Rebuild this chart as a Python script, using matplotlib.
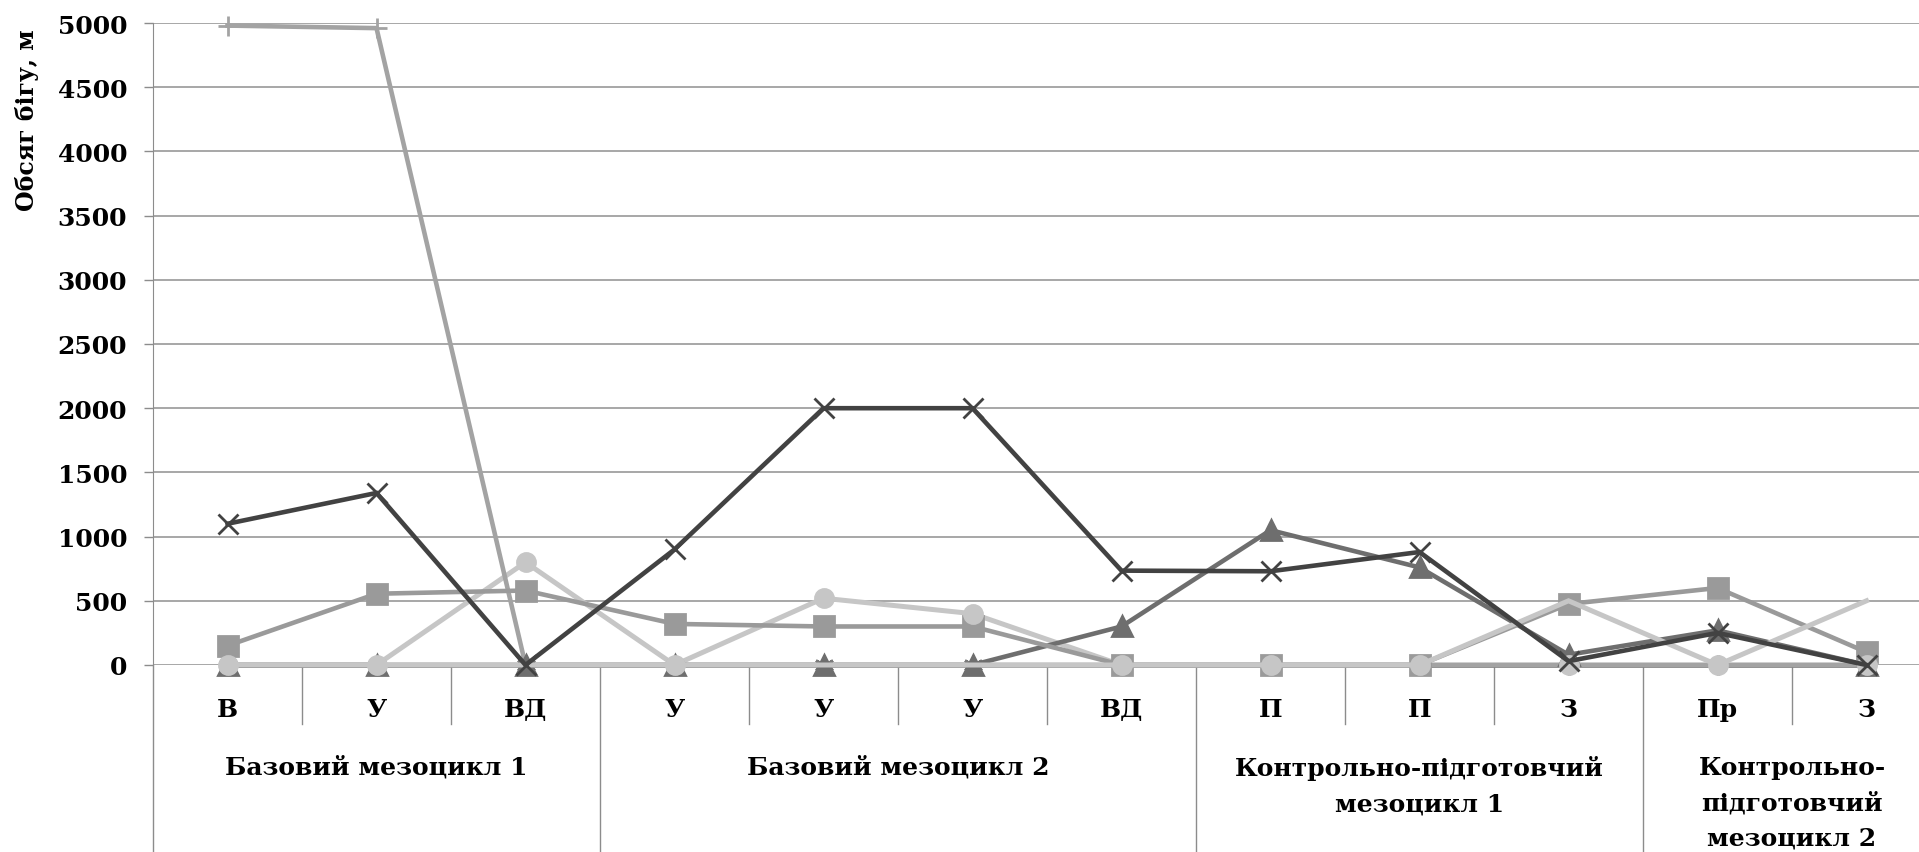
import matplotlib
matplotlib.use("Agg")
import matplotlib.pyplot as plt
from matplotlib.lines import Line2D

# Microcycle types along the horizontal axis
categories = ["В", "У", "ВД", "У", "У", "У", "ВД", "П", "П", "З", "Пр", "З"]
# Mesocycle groups and how many microcycles each contains
groups = ["Базовий мезоцикл 1", "Базовий мезоцикл 2",
          "Контрольно-підготовчий\nмезоцикл 1",
          "Контрольно-\nпідготовчий\nмезоцикл 2"]
group_sizes = [3, 4, 3, 2]

# Running volume (m) for each training zone
asterisk_vals = [0, 0, 0, 0, 0, 0, 0, 0, 0, 0, 0, 0]
plus_vals = [4980, 4960, 0, 0, 0, 0, 0, 0, 0, 0, 0, 0]
triangle_vals = [0, 0, 0, 0, 0, 0, 300, 1050, 760, 80, 270, 0]
square_vals = [150, 555, 580, 320, 300, 300, 0, 0, 0, 475, 600, 100]
circle_vals = [0, 0, 800, 0, 520, 400, 0, 0, 0, 0, 0, 0]
light_vals = [0, 0, 0, 0, 0, 0, 0, 0, 0, 500, 0, 500]
cross_vals = [1100, 1340, 0, 900, 2000, 2000, 735, 730, 880, 30, 250, 0]

y_ticks = [0, 500, 1000, 1500, 2000, 2500, 3000, 3500, 4000, 4500, 5000]

plt.rcParams["font.family"] = ["DejaVu Serif"]
plt.rcParams["font.weight"] = "bold"

W, H = 1919, 853
fig = plt.figure(figsize=(W / 100, H / 100), dpi=100)
ax_left, ax_bottom, ax_w, ax_h = 153, 187, 1788, 642
ax = fig.add_axes([ax_left / W, ax_bottom / H, ax_w / W, ax_h / H])

x = list(range(len(categories)))
LW = 3.3


def draw(vals, col, mk, ms, z, lw=LW, ls="-"):
    ax.plot(x, vals, color=col, lw=lw, ls=ls, marker=mk, markersize=ms,
            markerfacecolor=col, markeredgecolor=col, markeredgewidth=2,
            clip_on=False, solid_joinstyle="miter", zorder=z)


LIGHT = "#c6c6c6"
draw(circle_vals, LIGHT, "None", 0, 2.0, lw=3.6)
draw(asterisk_vals, "#7a7a7a", (6, 2, 0), 14, 2.1)
draw(plus_vals, "#a3a3a3", "+", 15, 2.2)
draw(triangle_vals, "#6e6e6e", "^", 14, 2.3)
draw(square_vals, "#9a9a9a", "s", 14, 2.4)
draw(circle_vals, LIGHT, "o", 13, 2.45, ls="None")
draw(light_vals, LIGHT, "None", 0, 2.5, lw=3.6)
draw(cross_vals, "#424242", "x", 14, 2.6)

ax.set_xlim(-0.5, len(categories) - 0.5)
ax.set_ylim(0, 5000)
ax.set_yticks(y_ticks)
ax.yaxis.grid(True, color="#a0a0a0", lw=1.3)
ax.set_axisbelow(True)
for s in ("top", "right", "bottom"):
    ax.spines[s].set_visible(False)
ax.spines["left"].set_color("#8c8c8c")
ax.tick_params(axis="y", length=6.5, width=1, color="#8c8c8c", pad=12,
               labelsize=18)

# Category labels on the first level of the axis
ax.set_xticks(x, categories)
ax.tick_params(axis="x", length=0, pad=23, labelsize=18)

# Category and group separators below the axis
tr = ax.get_xaxis_transform()
short_len = (725 - 666) / ax_h
long_len = (H - 666) / ax_h
bounds = [-0.5]
for n in group_sizes:
    bounds.append(bounds[-1] + n)
for b in range(len(categories) + 1):
    pos = b - 0.5
    length = long_len if pos in bounds else short_len
    ax.add_line(Line2D([pos, pos], [0, -length], transform=tr,
                       color="#8c8c8c", lw=1, clip_on=False))

# Group labels on the second level of the axis
for i, name in enumerate(groups):
    center = (bounds[i] + bounds[i + 1]) / 2
    ax.text(center, (666 - 756) / ax_h, name, transform=tr, ha="center",
            va="top", fontsize=18, fontweight="bold", linespacing=1.6)

fig.text(27 / W, 1 - 120 / H, "Обсяг бігу, м", rotation=90, ha="center",
         va="center", fontsize=17, fontweight="bold")

fig.savefig("out.png", dpi=100)
